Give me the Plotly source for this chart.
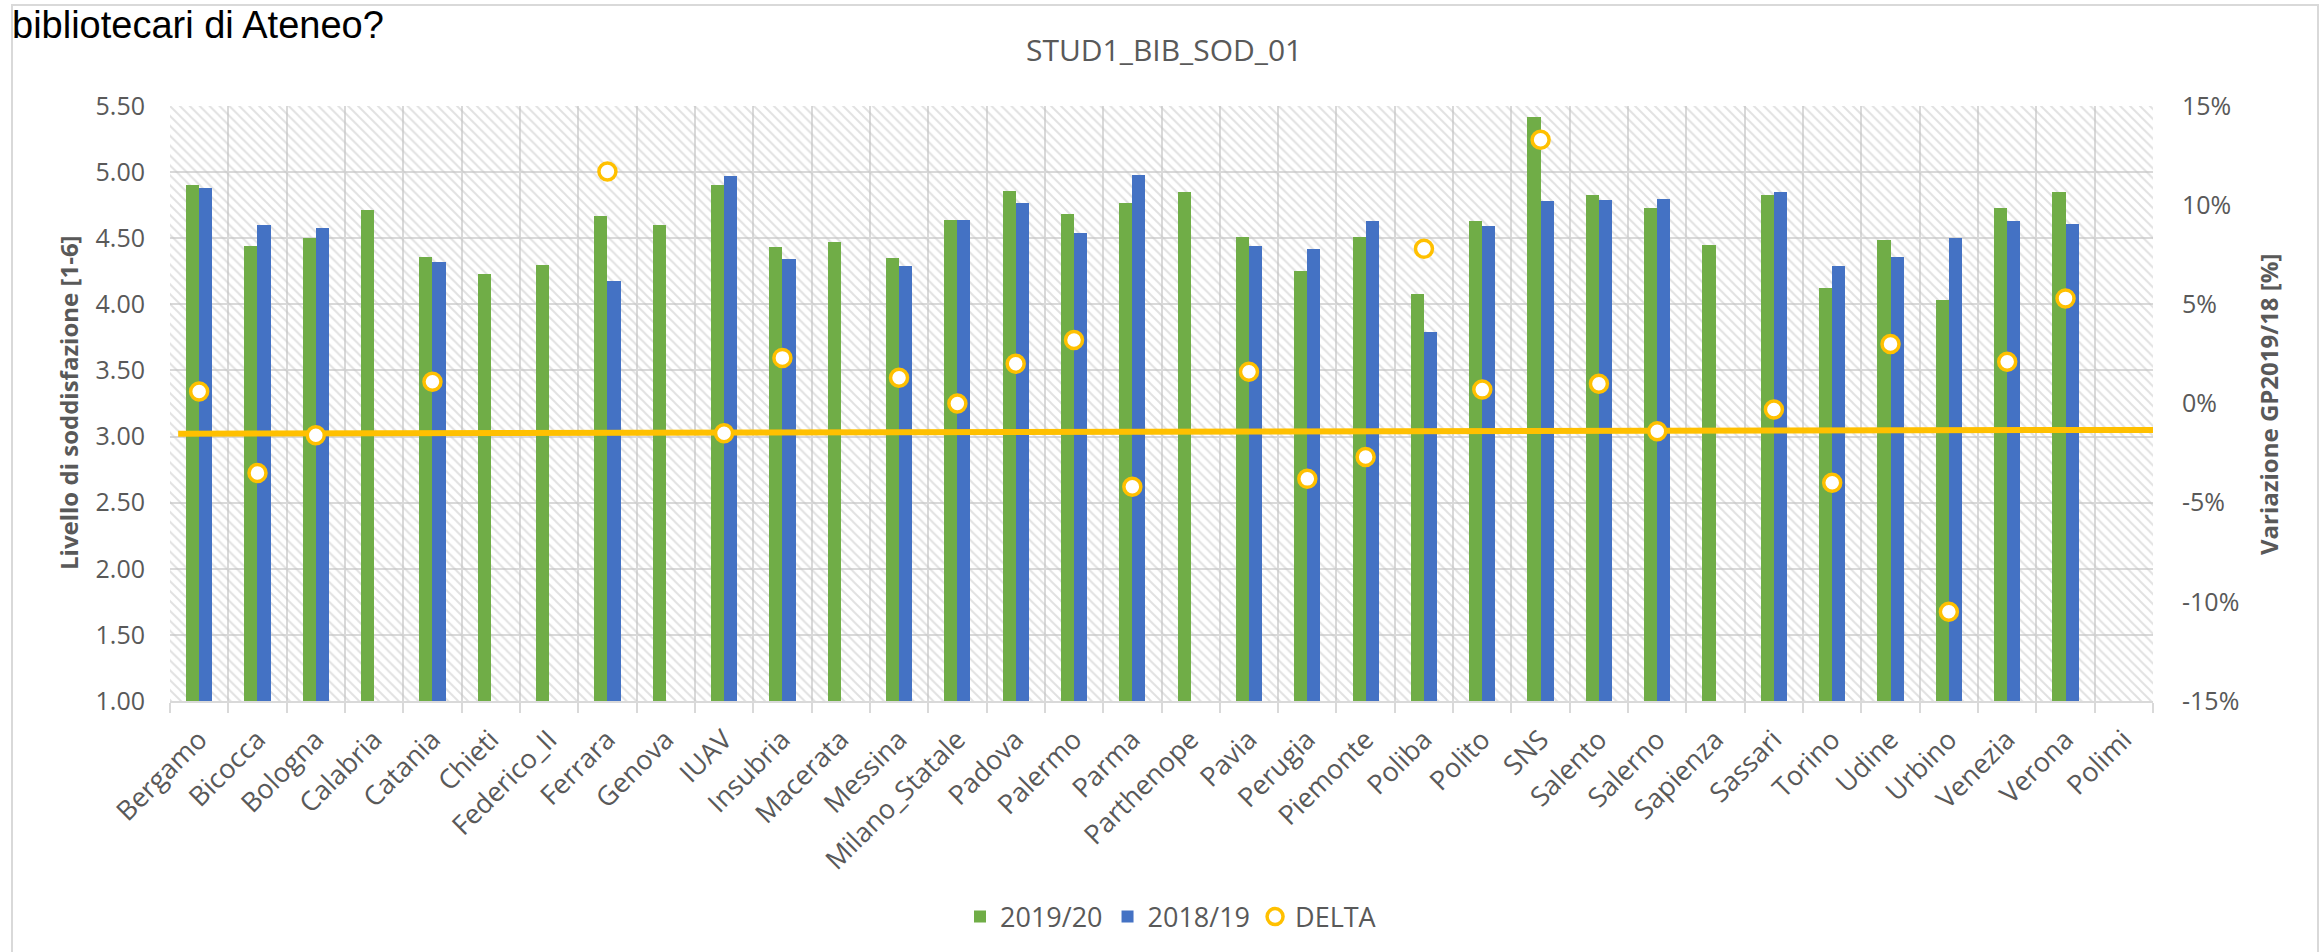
import plotly.graph_objects as go

# --- data -----------------------------------------------------------------
atenei = ["Bergamo", "Bicocca", "Bologna", "Calabria", "Catania", "Chieti",
          "Federico_II", "Ferrara", "Genova", "IUAV", "Insubria", "Macerata",
          "Messina", "Milano_Statale", "Padova", "Palermo", "Parma",
          "Parthenope", "Pavia", "Perugia", "Piemonte", "Poliba", "Polito",
          "SNS", "Salento", "Salerno", "Sapienza", "Sassari", "Torino",
          "Udine", "Urbino", "Venezia", "Verona", "Polimi"]

soddisf_2019_20 = [4.90, 4.44, 4.50, 4.71, 4.36, 4.23, 4.30, 4.67, 4.60, 4.90,
                   4.43, 4.47, 4.35, 4.64, 4.86, 4.68, 4.77, 4.85, 4.51, 4.25,
                   4.51, 4.08, 4.63, 5.42, 4.83, 4.73, 4.45, 4.83, 4.12, 4.49,
                   4.03, 4.73, 4.85, None]

soddisf_2018_19 = [4.88, 4.60, 4.58, None, 4.32, None, None, 4.18, None, 4.97,
                   4.34, None, 4.29, 4.64, 4.77, 4.54, 4.98, None, 4.44, 4.42,
                   4.63, 3.79, 4.59, 4.78, 4.79, 4.80, None, 4.85, 4.29, 4.36,
                   4.50, 4.63, 4.61, None]

# variazione percentuale GP2019/18
delta_pct = [0.6, -3.5, -1.6, None, 1.1, None, None, 11.7, None, -1.5,
             2.3, None, 1.3, 0.0, 2.0, 3.2, -4.2, None, 1.6, -3.8,
             -2.7, 7.8, 0.7, 13.3, 1.0, -1.4, None, -0.3, -4.0, 3.0,
             -10.5, 2.1, 5.3, None]

# linea di tendenza DELTA (estremi, in %)
trend_pos = [-0.36, 33.6]
trend_pct = [-1.52, -1.33]

left_ticks = [1.0, 1.5, 2.0, 2.5, 3.0, 3.5, 4.0, 4.5, 5.0, 5.5]
right_ticks = [-15, -10, -5, 0, 5, 10, 15]
right_labels = ["-15%", "-10%", "-5%", "0%", "5%", "10%", "15%"]

# --- layout constants -------------------------------------------------------
W, H = 2323, 952
ML, MR, MT, MB = 170, 170, 106, 251
PW, PH = W - ML - MR, H - MT - MB

GREEN, BLUE, GOLD = "#70AD47", "#4472C4", "#FFC000"
GRID, TXT = "#D9D9D9", "#595959"
FONT = "Open Sans, Arial, sans-serif"


def px_x(px):
    return (px - ML) / PW


def px_y(py):
    return (H - MB - py) / PH


n = len(atenei)
pos = list(range(n))
bar_w = 0.225

fig = go.Figure()

# hatched plot background
fig.add_trace(go.Bar(
    x=[(n - 1) / 2], y=[left_ticks[-1] - left_ticks[0]], base=[left_ticks[0]],
    width=[n], marker=dict(color="rgba(0,0,0,0)", line=dict(width=0),
                           pattern=dict(shape="\\", fgcolor="#C4C4C4",
                                        bgcolor="rgba(0,0,0,0)",
                                        size=7, solidity=0.28)),
    showlegend=False, hoverinfo="skip"))

fig.add_trace(go.Bar(
    x=pos, y=soddisf_2019_20, name="2019/20", width=bar_w, offset=-bar_w,
    marker=dict(color=GREEN, line=dict(width=0))))
fig.add_trace(go.Bar(
    x=pos, y=soddisf_2018_19, name="2018/19", width=bar_w, offset=0,
    marker=dict(color=BLUE, line=dict(width=0))))

fig.add_trace(go.Scatter(
    x=trend_pos, y=trend_pct, yaxis="y2", mode="lines",
    line=dict(color=GOLD, width=6), showlegend=False, hoverinfo="skip"))

fig.add_trace(go.Scatter(
    x=pos, y=delta_pct, yaxis="y2", name="DELTA", mode="markers",
    marker=dict(symbol="circle", size=17, color="white",
                line=dict(color=GOLD, width=3.5))))

fig.update_layout(
    width=W, height=H,
    margin=dict(l=ML, r=MR, t=MT, b=MB, autoexpand=False),
    paper_bgcolor="white", plot_bgcolor="white",
    barmode="overlay", bargap=0,
    font=dict(family=FONT, color=TXT, size=25),
    showlegend=True,
    legend=dict(orientation="h", xanchor="center", yanchor="middle",
                x=px_x(1171), y=px_y(917), font=dict(size=27, color=TXT),
                itemwidth=30, traceorder="normal"),
    xaxis=dict(range=[-0.5, n - 0.5], tickmode="array", tickvals=pos,
               ticktext=atenei, tickangle=-45, showgrid=False, ticks="",
               zeroline=False, showline=True, linecolor=GRID, linewidth=2,
               tickfont=dict(size=27, color=TXT), ticklabelstandoff=10,
               minor=dict(tickmode="array",
                          tickvals=[i - 0.5 for i in range(n + 1)],
                          showgrid=True, gridcolor=GRID, gridwidth=2,
                          ticks="outside", ticklen=10, tickcolor=GRID,
                          tickwidth=2)),
    yaxis=dict(range=[left_ticks[0], left_ticks[-1]], tickmode="array",
               tickvals=left_ticks, tickformat=".2f", showgrid=True,
               gridcolor=GRID, gridwidth=2, zeroline=False, showline=False,
               ticks="", ticklabelstandoff=24,
               tickfont=dict(size=25, color=TXT)),
    yaxis2=dict(range=[right_ticks[0], right_ticks[-1]], overlaying="y",
                side="right", tickmode="array", tickvals=right_ticks,
                ticktext=right_labels, showgrid=False, zeroline=False,
                showline=False, ticks="", ticklabelstandoff=28,
                tickfont=dict(size=25, color=TXT)),
)

# chart frame
fig.add_shape(type="rect", xref="paper", yref="paper",
              x0=px_x(12), x1=px_x(2318), y0=px_y(990), y1=px_y(5),
              line=dict(color=GRID, width=2), fillcolor="rgba(0,0,0,0)",
              layer="below")

fig.add_annotation(text="bibliotecari di Ateneo?", xref="paper", yref="paper",
                   x=px_x(10), y=px_y(25), xanchor="left", yanchor="middle",
                   showarrow=False,
                   font=dict(family="Liberation Sans, Arial, sans-serif",
                             size=38, color="#000000"))

fig.add_annotation(text="STUD1_BIB_SOD_01", xref="paper", yref="paper",
                   x=px_x(1164), y=px_y(50), xanchor="center",
                   yanchor="middle", showarrow=False,
                   font=dict(size=30, color=TXT))

fig.add_annotation(text="<b>Livello di soddisfazione [1-6]</b>",
                   xref="paper", yref="paper", x=px_x(68), y=px_y(403),
                   xanchor="center", yanchor="middle", textangle=-90,
                   showarrow=False, font=dict(size=24, color=TXT))

fig.add_annotation(text="<b>Variazione GP2019/18 [%]</b>",
                   xref="paper", yref="paper", x=px_x(2268), y=px_y(405),
                   xanchor="center", yanchor="middle", textangle=-90,
                   showarrow=False, font=dict(size=24, color=TXT))

fig.write_html("out.html")
